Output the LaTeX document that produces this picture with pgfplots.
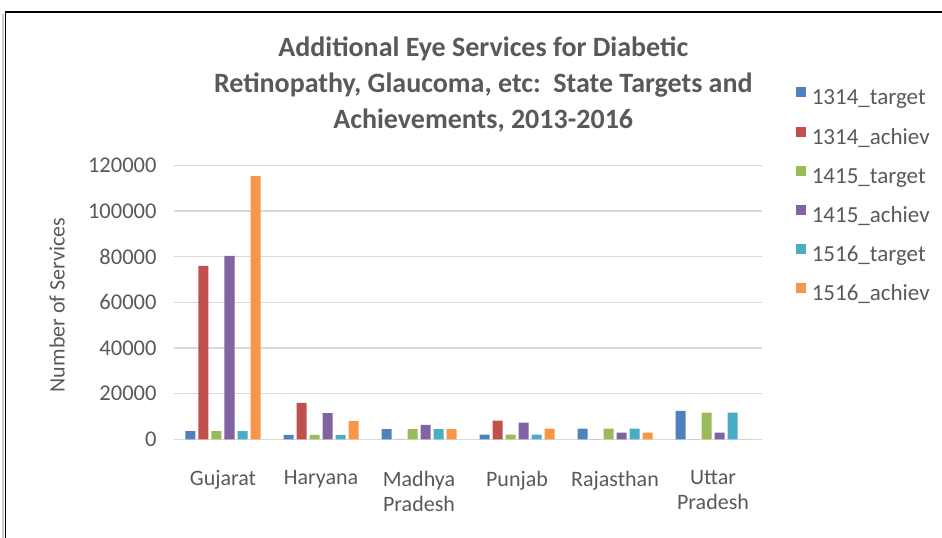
\documentclass[border=0pt]{standalone}
\usepackage{pgfplots}
\pgfplotsset{compat=1.18}
\usepackage{pgfplotstable}
\usetikzlibrary{calc}
\usepackage{fontspec}
\setmainfont{Carlito}
\definecolor{txt}{HTML}{595959}
\definecolor{gridc}{HTML}{D9D9D9}
\definecolor{cA}{HTML}{4F81BD}
\definecolor{cB}{HTML}{C0504D}
\definecolor{cC}{HTML}{9BBB59}
\definecolor{cD}{HTML}{8064A2}
\definecolor{cE}{HTML}{4BACC6}
\definecolor{cF}{HTML}{F79646}
\pgfplotstableread{
x t1314 a1314 t1415 a1415 t1516 a1516
0 3600 76000 3600 80300 3600 115300
1 1900 15900 1900 11500 1900 8000
2 4500 0 4500 6300 4500 4500
3 2000 8200 2000 7300 2000 4700
4 4700 0 4700 2900 4700 2900
5 12500 0 11700 2900 11700 0
}\datatable
\begin{document}
\begin{tikzpicture}[x=1bp,y=1bp]
\begin{axis}[
  scale only axis, width=588bp, height=274bp,
  ybar=3bp, bar width=10bp,
  xmin=-0.5, xmax=5.5, ymin=0, ymax=120000,
  ytick={0,20000,40000,60000,80000,100000,120000},
  yticklabels={0,20000,40000,60000,80000,100000,120000},
  xtick={0,1,2,3,4,5},
  xticklabels={Gujarat,Haryana,{Madhya\\Pradesh},Punjab,Rajasthan,{Uttar\\Pradesh}},
  xticklabel style={align=center, text=txt, font=\fontsize{22bp}{25bp}\selectfont, anchor=north, yshift=-28bp},
  yticklabel style={text=txt, font=\fontsize{22.5bp}{26bp}\selectfont, xshift=-14bp},
  scaled y ticks=false,
  axis lines*=left,
  y axis line style={draw=none},
  x axis line style={draw=gridc, line width=1.5bp},
  major tick length=0pt,
  ymajorgrids, major grid style={draw=gridc, line width=1.5bp},
  ylabel={Number of Services},
  ylabel style={at={(axis description cs:-0.199,0.49)}, anchor=center, text=txt, font=\fontsize{22bp}{26bp}\selectfont},
  title={Additional Eye Services for Diabetic\\Retinopathy, Glaucoma, etc:\ \ State Targets and\\Achievements, 2013-2016},
  title style={at={(axis description cs:0.526,1)}, anchor=south, yshift=27bp, align=center, text=txt, font=\bfseries\fontsize{28bp}{36bp}\selectfont, inner sep=0pt},
  legend style={at={(axis description cs:1.052,1.292)}, anchor=north west, draw=none, fill=none,
    font=\fontsize{23bp}{26bp}\selectfont, text=txt,
    nodes={inner sep=0pt, text height=15bp, text depth=4bp},
    row sep=17.6bp, column sep=6bp},
  legend cell align=left,
  legend image code/.code={\fill[#1] (0bp,2bp) rectangle (10bp,12bp);},
]
\addplot[fill=cA, draw=none] table[x=x,y=t1314]{\datatable};
\addplot[fill=cB, draw=none] table[x=x,y=a1314]{\datatable};
\addplot[fill=cC, draw=none] table[x=x,y=t1415]{\datatable};
\addplot[fill=cD, draw=none] table[x=x,y=a1415]{\datatable};
\addplot[fill=cE, draw=none] table[x=x,y=t1516]{\datatable};
\addplot[fill=cF, draw=none] table[x=x,y=a1516]{\datatable};
\legend{1314\_target,1314\_achiev,1415\_target,1415\_achiev,1516\_target,1516\_achiev}
\coordinate (O) at (rel axis cs:0,0);
\end{axis}
\pgfresetboundingbox
\path[use as bounding box] ($(O)+(-174,-98.7)$) rectangle ($(O)+(768,439.3)$);
\draw[gray!40, line width=2bp] ($(O)+(-170.5,-98.7)$) -- ($(O)+(-170.5,425.3)$);
\draw[black, line width=1.5bp] ($(O)+(-168.5,-98.7)$) -- ($(O)+(-168.5,427.3)$) -- ($(O)+(768,427.3)$);
\end{tikzpicture}
\end{document}
